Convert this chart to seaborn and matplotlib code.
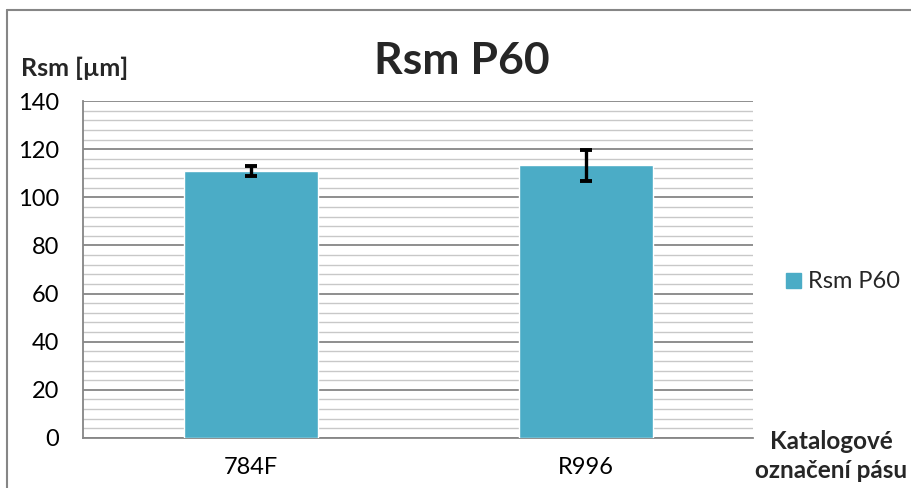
import matplotlib
matplotlib.use("Agg")
import matplotlib.pyplot as plt
from matplotlib.ticker import MultipleLocator, FixedLocator, NullFormatter
from matplotlib.patches import Rectangle
import seaborn as sns
import pandas as pd

categories = ["784F", "R996"]
values = [111.0, 113.3]
errors = [2.1, 6.4]
series_name = "Rsm P60"

sns.set_style("white")
plt.rcParams["font.family"] = ["Lato", "DejaVu Sans"]

fig = plt.figure(figsize=(9.11, 4.88), dpi=100)
W, H = 911, 488
ax = fig.add_axes([83 / W, 1 - 438 / H, (753 - 83) / W, (438 - 101) / H])

df = pd.DataFrame({"kategorie": categories, "hodnota": values, "serie": series_name})
sns.barplot(data=df, x="kategorie", y="hodnota", hue="serie", palette=["#4BACC6"],
            saturation=1, width=0.4, ax=ax, legend=False, zorder=3)
ax.errorbar(range(len(categories)), values, yerr=errors, fmt="none",
            ecolor="black", elinewidth=2.4, capsize=4.5, capthick=2.8, zorder=4)

ax.set_xlim(-0.5, len(categories) - 0.5)
ax.set_ylim(0, 140)
ax.yaxis.set_major_locator(MultipleLocator(20))
ax.yaxis.set_minor_locator(MultipleLocator(4))
ax.grid(which="major", axis="y", color="#868686", linewidth=1.3, zorder=0)
ax.grid(which="minor", axis="y", color="#c8c8c8", linewidth=1.0, zorder=0)
ax.set_axisbelow(True)

ax.xaxis.set_minor_locator(FixedLocator([-0.5, 0.5, 1.5]))
ax.xaxis.set_minor_formatter(NullFormatter())
ax.tick_params(axis="x", which="major", length=0, labelsize=17, pad=14)
ax.tick_params(axis="x", which="minor", length=9, width=1.3, color="#868686")
ax.tick_params(axis="y", which="major", length=7, width=1.3, color="#868686",
               labelsize=17, pad=10)
ax.tick_params(axis="y", which="minor", length=0)
for lbl in ax.get_xticklabels() + ax.get_yticklabels():
    lbl.set_color("black")
ax.set_xlabel("")
ax.set_ylabel("")

for s in ["top", "right"]:
    ax.spines[s].set_visible(False)
for s in ["left", "bottom"]:
    ax.spines[s].set_color("#868686")
    ax.spines[s].set_linewidth(1.3)

fig.text(462 / W, 1 - 61 / H, "Rsm P60", ha="center", va="center",
         fontsize=32, fontweight="bold")
fig.text(21 / W, 1 - 68 / H, "Rsm [µm]", ha="left", va="center",
         fontsize=18, fontweight="bold")
fig.text(831 / W, 1 - 456 / H, "Katalogové\noznačení pásu", ha="center",
         va="center", fontsize=17.5, fontweight="bold", linespacing=1.3)

# legend
fig.patches.append(Rectangle((786 / W, 1 - 288 / H), 15 / W, 15 / H,
                             transform=fig.transFigure, color="#4BACC6"))
fig.text(808 / W, 1 - 281 / H, series_name, ha="left", va="center", fontsize=17)

# chart border
fig.add_artist(plt.Line2D([7 / W, 7 / W], [0, 1 - 10 / H],
                          transform=fig.transFigure, color="#868686", linewidth=1.5))
fig.add_artist(plt.Line2D([7 / W, 1], [1 - 10 / H, 1 - 10 / H],
                          transform=fig.transFigure, color="#868686", linewidth=1.5))

fig.savefig("out.png", dpi=100)
